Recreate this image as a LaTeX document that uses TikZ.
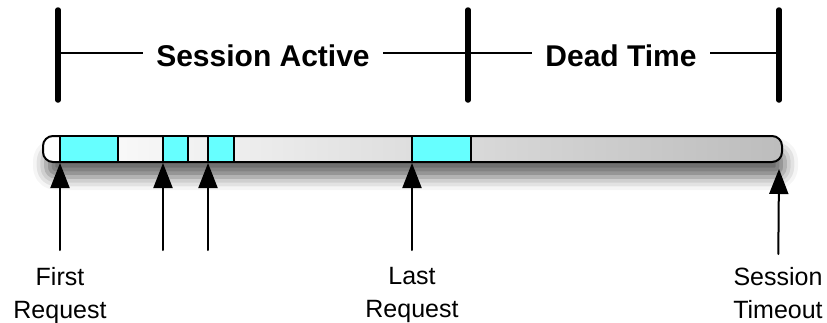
\documentclass[tikz,border=0pt]{standalone}
\usepackage{fontspec}
\setmainfont{Liberation Sans}
\usetikzlibrary{arrows.meta,shadows.blur,positioning}
\definecolor{hitcyan}{HTML}{66FFFF}

\begin{document}
\begin{tikzpicture}[x=1pt, y=-1pt, line join=round, line cap=round,
  tick/.style={line width=5.5pt},
  span/.style={fill=white, inner xsep=13pt, inner ysep=2pt, font=\fontsize{30}{30}\selectfont\bfseries},
  hit/.style={draw=black, line width=1.6pt, fill=hitcyan},
  req/.style={-{Triangle[width=19pt,length=25pt,fill=black]}, line width=2pt, black},
  lbl/.style={align=center, inner sep=0pt, anchor=north, font=\fontsize{25}{33}\selectfont}]

  \useasboundingbox (0,0) rectangle (827,322);

  % bar properties
  \def\barTop{136}  % top edge of the bar
  \def\barBot{162}  % bottom edge of the bar

  % draw the time bar
  \begin{scope}
    \draw[line width=2pt, rounded corners=10pt, left color=white, right color=gray!52,
      blur shadow={shadow xshift=3pt, shadow yshift=-15pt, shadow blur radius=13pt, shadow opacity=60}]
      (43,\barTop) rectangle (782,\barBot);
  \end{scope}

  % requests on the bar
  \foreach \a/\b in {60/118, 163/188, 208/234, 412/471}
    \draw[hit] (\a,\barTop) rectangle (\b,\barBot);

  % spans above the bar
  \coordinate (start) at (58,53);
  \coordinate (split) at (468,53);
  \coordinate (stop) at (779,53);
  \draw[line width=1.2pt] (start) -- (stop);
  \node[span] (active) at (263,56) {Session Active};
  \node[span] (dead) at (621,56) {Dead Time};
  \foreach \x in {58,468,779}
    \draw[tick] (\x,10) -- (\x,100);

  % label
  \node[lbl] (first) at (60,267) {First\\Request};
  \node[lbl] (last) at (412,267) {Last\\Request};
  \node[lbl] (timeout) at (778,267) {Session\\Timeout};

  \coordinate (hit1) at (60,163);
  \coordinate (hit2) at (163,163);
  \coordinate (hit3) at (208,163);
  \coordinate (hit4) at (412,163);
  \coordinate (end) at (779,169);
  \coordinate (low2) at (163,250);
  \coordinate (low3) at (208,250);

  \draw[req, shorten <=17pt] (first) -- (hit1);
  \draw[req] (low2) -- (hit2);
  \draw[req] (low3) -- (hit3);
  \draw[req, shorten <=17pt] (last) -- (hit4);
  \draw[req, shorten <=13pt] (timeout) -- (end);

\end{tikzpicture}
\end{document}
